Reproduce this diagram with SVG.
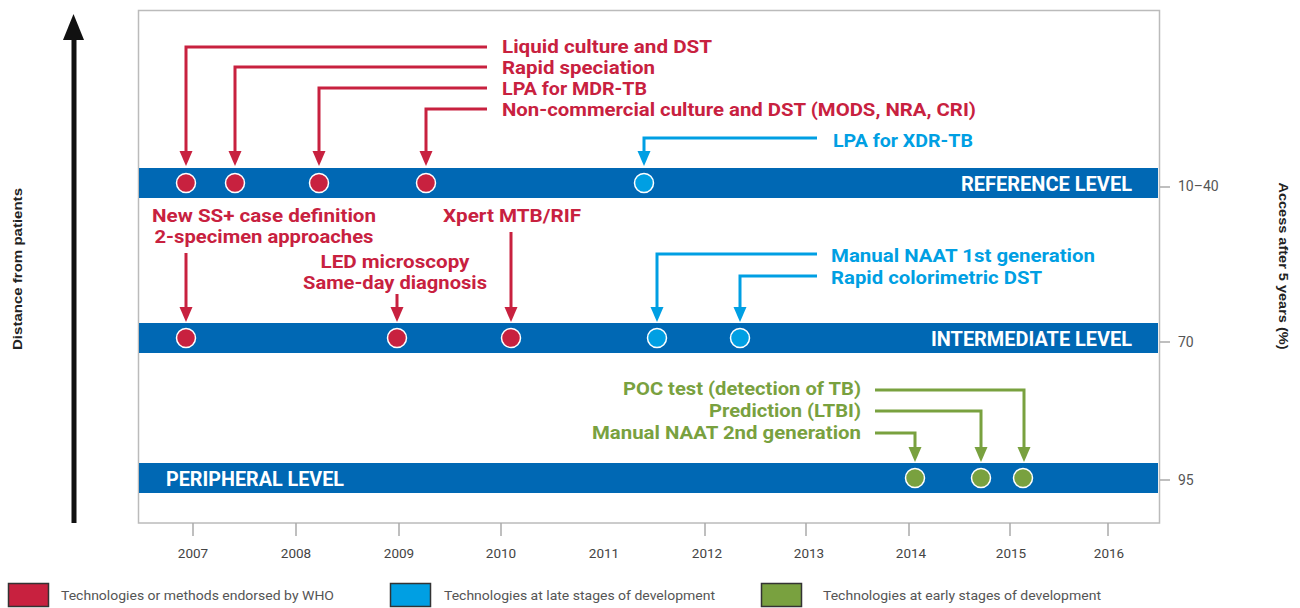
<svg xmlns="http://www.w3.org/2000/svg" width="1300" height="608" viewBox="0 0 1300 608">
<defs>
<style>
.lbl{font-family:Roboto,"Liberation Sans",Arial,sans-serif;font-weight:700;font-size:19px}
.red{fill:#C8213F}
.blue{fill:#009FE3}
.green{fill:#79A13F}
.band{fill:#0068B4}
.bandtxt{font-family:Roboto,"Liberation Sans",Arial,sans-serif;font-weight:700;font-size:19.5px;fill:#ffffff}
.ln{fill:none;stroke-width:3}
.lr{stroke:#C8213F}
.lb{stroke:#009FE3}
.lg{stroke:#79A13F}
.dot{stroke:#ffffff;stroke-width:1.5}
.tick{stroke:#aaaaaa;stroke-width:1.5}
.yr{font-family:Roboto,"Liberation Sans",Arial,sans-serif;font-size:13.5px;fill:#444444;text-anchor:middle}
.ax{font-family:Roboto,"Liberation Sans",Arial,sans-serif;font-size:14px;fill:#555555}
.axt{font-family:"Liberation Sans",Arial,sans-serif;font-weight:700;font-size:13.5px;fill:#222222;text-anchor:middle}
.leg{font-family:Roboto,"Liberation Sans",Arial,sans-serif;font-size:13.5px;fill:#555555}
.sq{stroke:#333333;stroke-width:1.5}
</style>
<marker id="ar" markerUnits="userSpaceOnUse" markerWidth="16" markerHeight="14" refX="0" refY="7" orient="auto" viewBox="0 0 16 14"><path d="M0,0.5 L15,7 L0,13.5 z" fill="#C8213F"/></marker>
<marker id="ab" markerUnits="userSpaceOnUse" markerWidth="16" markerHeight="14" refX="0" refY="7" orient="auto" viewBox="0 0 16 14"><path d="M0,0.5 L15,7 L0,13.5 z" fill="#009FE3"/></marker>
<marker id="ag" markerUnits="userSpaceOnUse" markerWidth="16" markerHeight="14" refX="0" refY="7" orient="auto" viewBox="0 0 16 14"><path d="M0,0.5 L15,7 L0,13.5 z" fill="#79A13F"/></marker>
</defs>
<rect width="1300" height="608" fill="#ffffff"/>

<g id="frame">
<rect x="138.5" y="10.5" width="1021" height="512.5" fill="none" stroke="#bbbbbb" stroke-width="1.5"/>
</g>

<g id="distance-axis">
<line x1="74" y1="523" x2="74" y2="38" stroke="#111111" stroke-width="5"/>
<polygon points="63,40 84,40 73.5,14" fill="#111111"/>
<text class="axt" transform="translate(22,269) rotate(-90)" textLength="162" lengthAdjust="spacingAndGlyphs">Distance from patients</text>
</g>

<g id="access-axis">
<line class="tick" x1="1160" y1="187" x2="1170" y2="187"/>
<line class="tick" x1="1160" y1="342" x2="1170" y2="342"/>
<line class="tick" x1="1160" y1="480" x2="1170" y2="480"/>
<text class="ax" x="1178" y="191">10–40</text>
<text class="ax" x="1178" y="347">70</text>
<text class="ax" x="1178" y="485">95</text>
<text class="axt" transform="translate(1279,266) rotate(90)" textLength="167" lengthAdjust="spacingAndGlyphs">Access after 5 years (%)</text>
</g>

<g id="year-axis">
<line class="tick" x1="193" y1="523" x2="193" y2="536"/>
<line class="tick" x1="296" y1="523" x2="296" y2="536"/>
<line class="tick" x1="399" y1="523" x2="399" y2="536"/>
<line class="tick" x1="501" y1="523" x2="501" y2="536"/>
<line class="tick" x1="705" y1="523" x2="705" y2="536"/>
<line class="tick" x1="806" y1="523" x2="806" y2="536"/>
<line class="tick" x1="909" y1="523" x2="909" y2="536"/>
<line class="tick" x1="1010" y1="523" x2="1010" y2="536"/>
<line class="tick" x1="1108" y1="523" x2="1108" y2="536"/>
<text class="yr" x="193" y="558">2007</text>
<text class="yr" x="296" y="558">2008</text>
<text class="yr" x="399" y="558">2009</text>
<text class="yr" x="501" y="558">2010</text>
<text class="yr" x="604" y="558">2011</text>
<text class="yr" x="707" y="558">2012</text>
<text class="yr" x="809" y="558">2013</text>
<text class="yr" x="911" y="558">2014</text>
<text class="yr" x="1011" y="558">2015</text>
<text class="yr" x="1109" y="558">2016</text>
</g>

<g id="reference-level">
<rect class="band" x="139" y="168" width="1019" height="30"/>
<text class="bandtxt" x="1132" y="191" text-anchor="end" textLength="171" lengthAdjust="spacingAndGlyphs">REFERENCE LEVEL</text>
</g>
<g id="intermediate-level">
<rect class="band" x="139" y="323" width="1019" height="30"/>
<text class="bandtxt" x="1132" y="345.5" text-anchor="end" textLength="201" lengthAdjust="spacingAndGlyphs">INTERMEDIATE LEVEL</text>
</g>
<g id="peripheral-level">
<rect class="band" x="139" y="463" width="1019" height="30"/>
<text class="bandtxt" x="166" y="486" textLength="178" lengthAdjust="spacingAndGlyphs">PERIPHERAL LEVEL</text>
</g>

<g id="connectors">
<path class="ln lr" d="M487,47 H186 V151" marker-end="url(#ar)"/>
<path class="ln lr" d="M487,67 H235 V151" marker-end="url(#ar)"/>
<path class="ln lr" d="M487,88 H319 V151" marker-end="url(#ar)"/>
<path class="ln lr" d="M487,109 H426 V151" marker-end="url(#ar)"/>
<path class="ln lr" d="M186,253 V307" marker-end="url(#ar)"/>
<path class="ln lr" d="M397,294 V307" marker-end="url(#ar)"/>
<path class="ln lr" d="M511,232 V307" marker-end="url(#ar)"/>
<path class="ln lb" d="M817,138 H644 V151" marker-end="url(#ab)"/>
<path class="ln lb" d="M817,254 H657 V307" marker-end="url(#ab)"/>
<path class="ln lb" d="M817,276 H740 V307" marker-end="url(#ab)"/>
<path class="ln lg" d="M875,390 H1024 V447" marker-end="url(#ag)"/>
<path class="ln lg" d="M875,411 H981 V447" marker-end="url(#ag)"/>
<path class="ln lg" d="M875,433 H915 V447" marker-end="url(#ag)"/>
</g>

<g id="liquid-culture">
<text class="lbl red" x="502" y="52.5" textLength="210" lengthAdjust="spacingAndGlyphs">Liquid culture and DST</text>
<circle class="dot red" cx="186" cy="183" r="9.5"/>
</g>
<g id="rapid-speciation">
<text class="lbl red" x="502" y="73.5" textLength="153" lengthAdjust="spacingAndGlyphs">Rapid speciation</text>
<circle class="dot red" cx="235" cy="183" r="9.5"/>
</g>
<g id="lpa-mdr">
<text class="lbl red" x="502" y="94.5" textLength="145" lengthAdjust="spacingAndGlyphs">LPA for MDR-TB</text>
<circle class="dot red" cx="319" cy="183" r="9.5"/>
</g>
<g id="non-commercial">
<text class="lbl red" x="502" y="115.5" textLength="474" lengthAdjust="spacingAndGlyphs">Non-commercial culture and DST (MODS, NRA, CRI)</text>
<circle class="dot red" cx="426" cy="183" r="9.5"/>
</g>
<g id="lpa-xdr">
<text class="lbl blue" x="833" y="146.5" textLength="140" lengthAdjust="spacingAndGlyphs">LPA for XDR-TB</text>
<circle class="dot blue" cx="644" cy="183" r="9.5"/>
</g>
<g id="new-ss-case">
<text class="lbl red" x="264" y="222" text-anchor="middle" textLength="224" lengthAdjust="spacingAndGlyphs">New SS+ case definition</text>
<text class="lbl red" x="264" y="243" text-anchor="middle" textLength="219" lengthAdjust="spacingAndGlyphs">2-specimen approaches</text>
<circle class="dot red" cx="186" cy="338" r="9.5"/>
</g>
<g id="led-microscopy">
<text class="lbl red" x="395" y="268" text-anchor="middle" textLength="149" lengthAdjust="spacingAndGlyphs">LED microscopy</text>
<text class="lbl red" x="395" y="289" text-anchor="middle" textLength="184" lengthAdjust="spacingAndGlyphs">Same-day diagnosis</text>
<circle class="dot red" cx="397" cy="338" r="9.5"/>
</g>
<g id="xpert">
<text class="lbl red" x="512" y="222" text-anchor="middle" textLength="138" lengthAdjust="spacingAndGlyphs">Xpert MTB/RIF</text>
<circle class="dot red" cx="511" cy="338" r="9.5"/>
</g>
<g id="naat-1st">
<text class="lbl blue" x="831" y="262" textLength="264" lengthAdjust="spacingAndGlyphs">Manual NAAT 1st generation</text>
<circle class="dot blue" cx="657" cy="338" r="9.5"/>
</g>
<g id="rapid-colorimetric">
<text class="lbl blue" x="831" y="283.5" textLength="211" lengthAdjust="spacingAndGlyphs">Rapid colorimetric DST</text>
<circle class="dot blue" cx="740" cy="338" r="9.5"/>
</g>
<g id="poc-test">
<text class="lbl green" x="861" y="394.5" text-anchor="end" textLength="238" lengthAdjust="spacingAndGlyphs">POC test (detection of TB)</text>
<circle class="dot green" cx="1023" cy="478" r="9.5"/>
</g>
<g id="prediction">
<text class="lbl green" x="861" y="416.5" text-anchor="end" textLength="152" lengthAdjust="spacingAndGlyphs">Prediction (LTBI)</text>
<circle class="dot green" cx="981" cy="478" r="9.5"/>
</g>
<g id="naat-2nd">
<text class="lbl green" x="861" y="438.5" text-anchor="end" textLength="269" lengthAdjust="spacingAndGlyphs">Manual NAAT 2nd generation</text>
<circle class="dot green" cx="915" cy="478" r="9.5"/>
</g>

<g id="legend">
<rect class="sq red" x="8.5" y="583.5" width="40" height="23"/>
<text class="leg" x="61" y="600" textLength="273" lengthAdjust="spacingAndGlyphs">Technologies or methods endorsed by WHO</text>
<rect class="sq blue" x="390.5" y="583.5" width="40" height="23"/>
<text class="leg" x="444" y="600" textLength="271" lengthAdjust="spacingAndGlyphs">Technologies at late stages of development</text>
<rect class="sq green" x="761.5" y="583.5" width="40" height="23"/>
<text class="leg" x="823" y="600" textLength="278" lengthAdjust="spacingAndGlyphs">Technologies at early stages of development</text>
</g>
</svg>
